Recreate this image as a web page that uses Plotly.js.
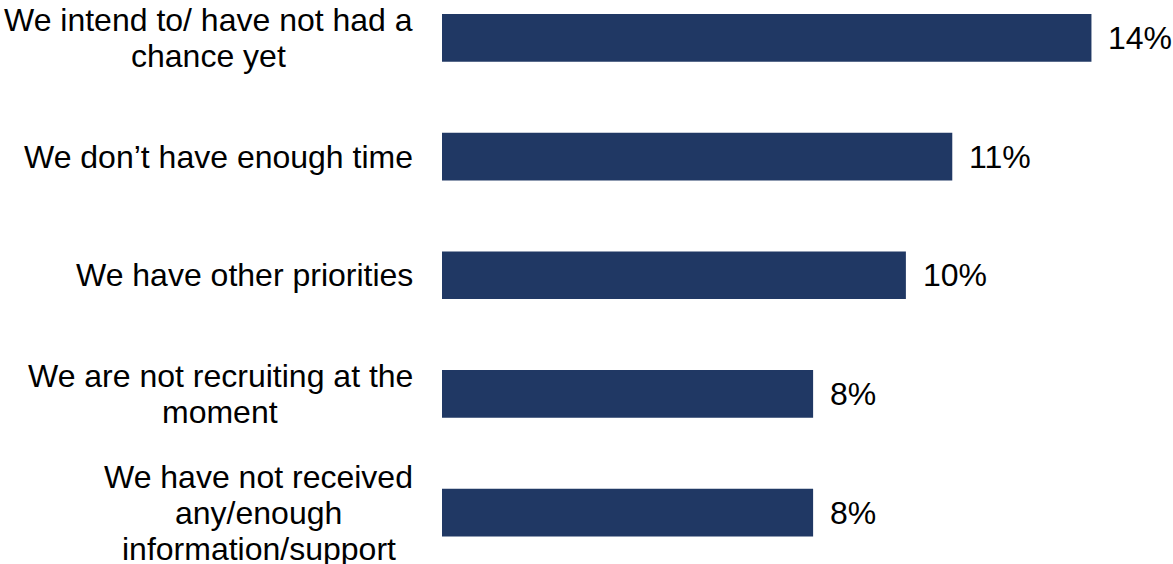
<!DOCTYPE html>
<html><head><meta charset="utf-8">
<script src="https://cdn.plot.ly/plotly-3.0.1.min.js"></script>
<style>html,body{margin:0;padding:0;background:#fff}#chart{width:1173px;height:564px}</style>
</head><body><div id="chart"></div>
<script>
const categories = [
  "We intend to/ have not had a<br>chance yet",
  "We don’t have enough time",
  "We have other priorities",
  "We are not recruiting at the<br>moment",
  "We have not received<br>any/enough<br>information/support"
];
const values = [14, 11, 10, 8, 8];
const valueLabels = values.map(v => v + '%');

const FONT = '"Liberation Sans", Arial, sans-serif';
const FS = 32;
const LINE_H = 36;
const LABEL_GAP = 29;
const BAR_COLOR = '#203864';

const ctx = document.createElement('canvas').getContext('2d');
ctx.font = FS + 'px "Liberation Sans"';

const annotations = [];
categories.forEach((cat, i) => {
  const lines = cat.split('<br>');
  const blockW = Math.max(...lines.map(l => ctx.measureText(l).width));
  lines.forEach((line, j) => {
    annotations.push({
      xref: 'paper', yref: 'y', x: 0, y: cat, text: line, showarrow: false,
      xanchor: 'center', yanchor: 'middle',
      xshift: -LABEL_GAP - blockW / 2,
      yshift: ((lines.length - 1) / 2 - j) * LINE_H,
      font: {family: FONT, size: FS, color: '#000'}
    });
  });
  annotations.push({
    xref: 'x', yref: 'y', x: values[i], y: cat, text: valueLabels[i], showarrow: false,
    xanchor: 'left', yanchor: 'middle', xshift: 15,
    font: {family: FONT, size: FS, color: '#000'}
  });
});

const trace = {
  type: 'bar', orientation: 'h', x: values, y: categories,
  width: 0.402, marker: {color: BAR_COLOR}, hoverinfo: 'skip'
};

const layout = {
  width: 1173, height: 564,
  margin: {l: 442, r: 0, t: 0, b: 0, pad: 0},
  paper_bgcolor: '#fff', plot_bgcolor: '#fff',
  showlegend: false,
  xaxis: {range: [0, 15.758], showgrid: false, zeroline: false, showline: false, showticklabels: false, ticks: ''},
  yaxis: {type: 'category', categoryorder: 'array', categoryarray: categories,
          range: [4.433, -0.319], showgrid: false, zeroline: false, showline: false, showticklabels: false, ticks: ''},
  annotations: annotations
};

Plotly.newPlot('chart', [trace], layout, {displayModeBar: false, staticPlot: true});
</script>
</body></html>
